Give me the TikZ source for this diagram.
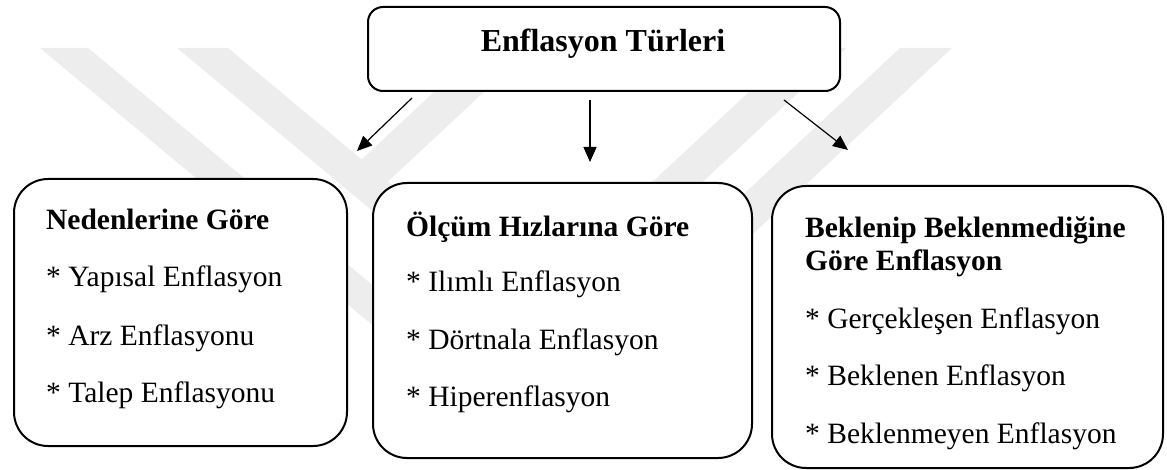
\documentclass[tikz,border=0pt]{standalone}
\usepackage{fontspec}
\setmainfont{Liberation Serif}
\usetikzlibrary{arrows.meta}
\begin{document}
\begin{tikzpicture}[x=1pt,y=-1pt,
  wm/.style={fill=black!7, draw=none},
  bigbox/.style={draw, line width=2pt, rounded corners=34pt, fill=white, anchor=north west, inner sep=0pt},
  topbox/.style={draw, line width=2pt, rounded corners=15pt, fill=white, anchor=north west, inner sep=0pt},
  head/.style={anchor=base west, inner sep=0pt, font=\fontsize{29.5}{32}\selectfont\bfseries},
  item/.style={anchor=base west, inner sep=0pt, font=\fontsize{29.5}{32}\selectfont},
  arr/.style={line width=1.2pt, -{Triangle[length=15pt,width=13pt]}}]
\useasboundingbox (0,0) rectangle (1167,470);
% watermark (faint)
\begin{scope}
\clip (0,0) rectangle (1167,470);
\fill[wm] (40,48) -- (88,48) -- (517.3,405.7) -- (900,48) -- (952,48) -- (522.1,449.8) -- cycle;
\fill[wm] (177,48) -- (228,48) -- (528,298) -- (796,48) -- (846,48) -- (530.7,342.7) -- cycle;
\fill[wm] (481,48) -- (531,48) -- (388,181.5) -- (362,200) -- (337.7,182) -- cycle;
\end{scope}
% boxes
\node[topbox, minimum width=472pt, minimum height=84pt] (top) at (367,6) {};
\node[bigbox, minimum width=333pt, minimum height=267pt] (left) at (13,178) {};
\node[bigbox, minimum width=379pt, minimum height=275pt] (mid) at (372,182) {};
\node[bigbox, minimum width=391pt, minimum height=282pt] (right) at (771,185) {};
% title
\node[anchor=base, inner sep=0pt, font=\fontsize{32}{36}\selectfont\bfseries] (title) at (603,52) {Enflasyon Türleri};
% left box texts
\node[head] (l0) at (46,230) {Nedenlerine Göre};
\node[item] (l1) at (46,287) {* Yapısal Enflasyon};
\node[item] (l2) at (46,345) {* Arz Enflasyonu};
\node[item] (l3) at (46,402) {* Talep Enflasyonu};
% middle box texts
\node[head] (m0) at (406,237) {Ölçüm Hızlarına Göre};
\node[item] (m1) at (406,292) {* Ilımlı Enflasyon};
\node[item] (m2) at (406,349) {* Dörtnala Enflasyon};
\node[item] (m3) at (406,406) {* Hiperenflasyon};
% right box texts
\node[head] (r0) at (805,238) {Beklenip Beklenmediğine};
\node[head] (r0b) at (805,271) {Göre Enflasyon};
\node[item] (r1) at (805,328) {* Gerçekleşen Enflasyon};
\node[item] (r2) at (805,385) {* Beklenen Enflasyon};
\node[item] (r3) at (805,443) {* Beklenmeyen Enflasyon};
% arrows
\coordinate (aLs) at (412,98);  \coordinate (aLe) at (357,151);
\coordinate (aMs) at (590,100); \coordinate (aMe) at (590,162);
\coordinate (aRs) at (784,100); \coordinate (aRe) at (848,150);
\draw[arr] (aLs) -- (aLe);
\draw[arr] (aMs) -- (aMe);
\draw[arr] (aRs) -- (aRe);
\end{tikzpicture}
\end{document}
